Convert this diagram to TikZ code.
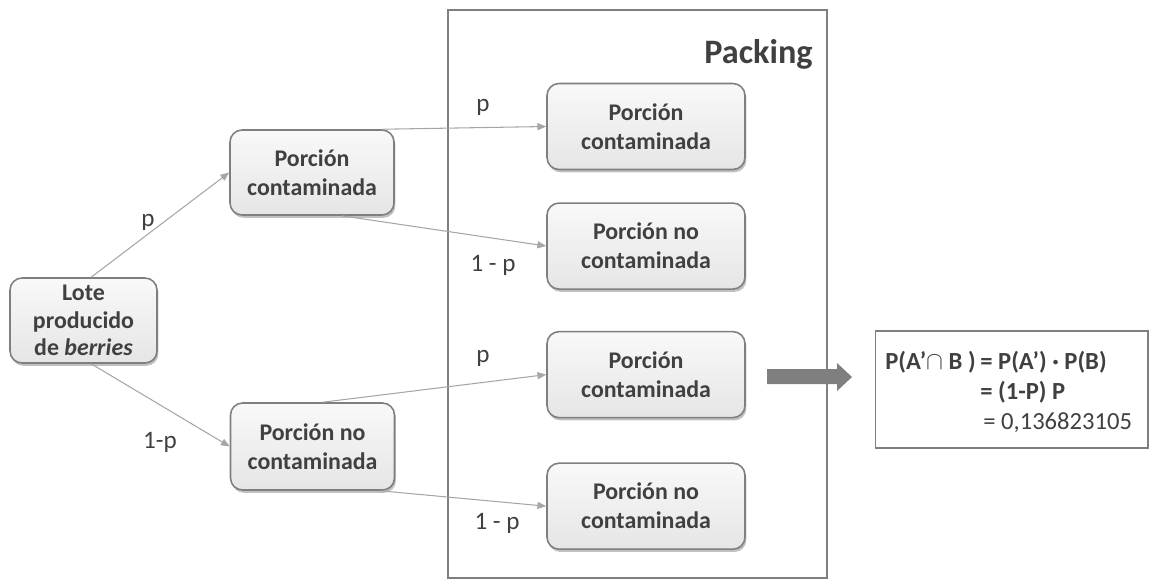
\documentclass[tikz,border=0pt]{standalone}
\usepackage{fontspec}
\setmainfont{Carlito}
\usepackage{xcolor}
\usetikzlibrary{arrows.meta,positioning,shadows,calc}

\definecolor{txtgray}{HTML}{404040}
\definecolor{linegray}{HTML}{A6A6A6}
\definecolor{boxborder}{HTML}{7F7F7F}

\begin{document}
\begin{tikzpicture}[
    x=0.02cm, y=-0.02cm,
    every node/.style={text=txtgray},
    portion/.style={draw=boxborder, line width=0.9pt, rounded corners=0.24cm,
        top color=gray!5, bottom color=gray!20, minimum width=3.96cm, minimum height=1.72cm,
        align=center, inner sep=1pt, font=\bfseries\fontsize{13.6}{16.5}\selectfont,
        drop shadow={shadow xshift=0.8pt, shadow yshift=-1.6pt, opacity=0.35, fill=black!70}},
    conn/.style={draw=linegray, line width=0.6pt, -{Triangle[length=5pt,width=4pt]}},
    prob/.style={font=\fontsize{14.3}{16}\selectfont, inner sep=0pt},
    formula/.style={anchor=base west, inner sep=0pt, font=\bfseries\fontsize{14}{17}\selectfont}
]
\useasboundingbox (0,0) rectangle (1155,586);

% Packing area
\node[draw=boxborder, line width=0.8pt, minimum width=7.58cm, minimum height=11.36cm, inner sep=0pt] (packbox) at (637.5,294) {};
\node[anchor=base east, inner sep=0pt, font=\bfseries\fontsize{19.5}{22}\selectfont] (packlabel) at (813,63) {Packing};

% Boxes
\node[portion, minimum width=2.94cm, minimum height=1.7cm, font=\bfseries\fontsize{13.6}{15.5}\selectfont] (lote) at (83.5,320.5) {Lote\\producido\\de \textit{berries}};
\node[portion, minimum width=3.28cm, minimum height=1.7cm] (pc1) at (312,172.5) {Porción\\contaminada};
\node[portion, minimum width=3.28cm, minimum height=1.74cm] (pnc1) at (312.5,446.5) {Porción no\\contaminada};

\node[portion] (p1) at (646,126.5) {Porción\\contaminada};
\node[portion, below=0.64cm of p1] (p2) {Porción no\\contaminada};
\node[portion, below=0.82cm of p2] (p3) {Porción\\contaminada};
\node[portion, below=0.88cm of p3] (p4) {Porción no\\contaminada};

% Connections
\draw[conn] (lote.80) -- (pc1.west);
\draw[conn] (lote.-80) -- (pnc1.west);
\draw[conn] ($(pc1.north east)+(-12,0)$) -- (p1.west);
\draw[conn] ($(pc1.south)+(30,0)$) -- (p2.west);
\draw[conn] ($(pnc1.north)+(10,0)$) -- (p3.west);
\draw[conn] ($(pnc1.south east)+(-15,0)$) -- (p4.west);

% Probabilities
\node[prob] (lab1) at (148,222) {p};
\node[prob] (lab2) at (160,442) {1-p};
\node[prob] (lab3) at (483,107) {p};
\node[prob] (lab4) at (493,265) {1 - p};
\node[prob] (lab5) at (483,358) {p};
\node[prob] (lab6) at (497,523) {1 - p};

% Result
\fill[boxborder] (767,369) -- (837,369) -- (837,363) -- (852,377) -- (837,391) -- (837,384) -- (767,384) -- cycle;
\node[draw=boxborder, line width=0.6pt, minimum width=5.46cm, minimum height=2.34cm, inner sep=0pt] (formbox) at (1011.5,389.5) {};
\node[formula] (form1a) at (885,369) {P(A’$\cap$ B )};
\node[formula] (form1b) at (980,369) {= P(A’) · P(B)};
\node[formula] (form2) at (980,399) {= (1-P) P};
\node[formula, font=\fontsize{14}{17}\selectfont] (form3) at (983,429) {= 0,136823105};

\end{tikzpicture}
\end{document}
